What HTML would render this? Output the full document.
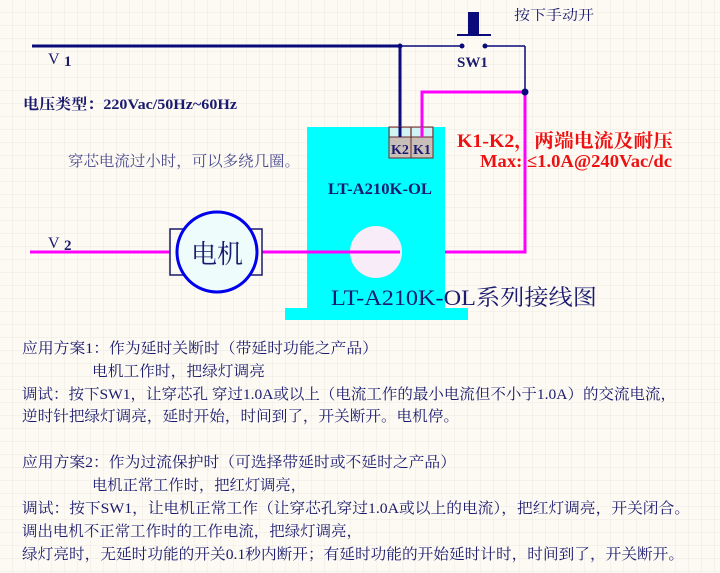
<!DOCTYPE html>
<html><head><meta charset="utf-8"><style>
html,body{margin:0;padding:0;background:#fcfaf3;}
svg{display:block}
text{font-family:"Liberation Serif","Noto Serif CJK SC",serif;}
</style></head><body>
<svg width="720" height="573" viewBox="0 0 720 573" xmlns="http://www.w3.org/2000/svg">
<defs>
<pattern id="g" width="13" height="13" patternUnits="userSpaceOnUse">
<path d="M13 0V13H0" fill="none" stroke="#ece9e0" stroke-width="1"/>
</pattern>
</defs>
<rect width="720" height="573" fill="#fcfaf3"/>
<rect width="720" height="573" fill="url(#g)"/>
<line x1="32" y1="46" x2="400" y2="46" stroke="#0a0a7a" stroke-width="3"/>
<line x1="400" y1="46" x2="462" y2="46" stroke="#0a0a7a" stroke-width="1.5"/>
<line x1="485" y1="46" x2="525" y2="46" stroke="#0a0a7a" stroke-width="1.5"/>
<line x1="525" y1="46" x2="525" y2="92" stroke="#0a0a7a" stroke-width="1.5"/>
<line x1="400" y1="46" x2="400" y2="127" stroke="#0a0a7a" stroke-width="3"/>
<circle cx="400" cy="46" r="2.5" fill="#0a0a7a"/>
<circle cx="462" cy="46" r="2.5" fill="#0a0a7a"/>
<circle cx="485" cy="46" r="2.5" fill="#0a0a7a"/>
<rect x="457" y="34" width="34" height="2" fill="#0a0a7a"/>
<rect x="468" y="12" width="11" height="22" fill="#0a0a7a"/>
<text x="457" y="67" font-size="15" font-weight="bold" fill="#1a1a6e">SW1</text>
<text x="514" y="20" font-size="14" fill="#1a1a6e" font-family="Liberation Sans,'Noto Sans CJK SC',sans-serif" textLength="80" lengthAdjust="spacingAndGlyphs">按下手动开</text>
<text x="48" y="64" font-size="16" fill="#1a1a6e">V</text><text x="64" y="66" font-size="15" font-weight="bold" fill="#1a1a6e">1</text>
<text x="23" y="109" font-size="15" font-weight="bold" fill="#1a1a6e" textLength="214" lengthAdjust="spacingAndGlyphs">电压类型：220Vac/50Hz~60Hz</text>
<text x="68" y="166" font-size="15" fill="#4a4a8e" textLength="232" lengthAdjust="spacingAndGlyphs">穿芯电流过小时，可以多绕几圈。</text>
<rect x="307" y="127" width="138" height="186" fill="#00ffff"/>
<rect x="285" y="308" width="183" height="12" fill="#00ffff"/>
<circle cx="376" cy="252" r="26" fill="#f8ecf8"/>
<polyline points="422,127 422,92 525,92 525,252 445,252" fill="none" stroke="#ff00ff" stroke-width="3"/>
<line x1="30" y1="252" x2="170" y2="252" stroke="#ff00ff" stroke-width="3"/>
<line x1="262" y1="252" x2="400" y2="252" stroke="#ff00ff" stroke-width="3"/>
<circle cx="525" cy="92" r="3.5" fill="#0a0a7a"/>
<rect x="389" y="127" width="22" height="31" fill="#c8c0b8" stroke="#6a2a2a"/>
<rect x="411" y="127" width="22" height="31" fill="#c8c0b8" stroke="#6a2a2a"/>
<rect x="390" y="128" width="20" height="9" fill="#d0f4f4"/>
<rect x="412" y="128" width="20" height="9" fill="#d0f4f4"/>
<line x1="389" y1="137" x2="433" y2="137" stroke="#6a2a2a"/>
<text x="391" y="154" font-size="14" font-weight="bold" fill="#1a1a6e">K2</text>
<text x="413" y="154" font-size="14" font-weight="bold" fill="#1a1a6e">K1</text>
<line x1="400" y1="127" x2="400" y2="137" stroke="#0a0a7a" stroke-width="3"/>
<line x1="422" y1="127" x2="422" y2="137" stroke="#ff00ff" stroke-width="3"/>
<text x="328" y="194" font-size="16" font-weight="bold" fill="#1a1a6e" textLength="104" lengthAdjust="spacingAndGlyphs">LT-A210K-OL</text>
<text x="331" y="305" font-size="22" fill="#1a1a6e" textLength="266" lengthAdjust="spacingAndGlyphs">LT-A210K-OL系列接线图</text>
<text x="457" y="147" font-size="19" font-weight="bold" fill="#ee1111" textLength="216" lengthAdjust="spacingAndGlyphs">K1-K2，两端电流及耐压</text>
<text x="480" y="167" font-size="18" font-weight="bold" fill="#ee1111" textLength="192" lengthAdjust="spacingAndGlyphs">Max: ≤1.0A@240Vac/dc</text>
<text x="48" y="248" font-size="16" fill="#1a1a6e">V</text><text x="64" y="250" font-size="15" font-weight="bold" fill="#1a1a6e">2</text>
<rect x="170" y="229" width="92" height="46" fill="none" stroke="#1a1a6e" stroke-width="1.5"/>
<circle cx="217" cy="252" r="40" fill="#eefcfc" stroke="#0000ee" stroke-width="3"/>
<text x="191" y="263" font-size="26" fill="#1a1a6e" font-family="Liberation Sans,'Noto Sans CJK SC',sans-serif">电机</text>
<g font-size="15" fill="#1a1a6e">
<text x="22" y="353" textLength="356" lengthAdjust="spacingAndGlyphs">应用方案1：作为延时关断时（带延时功能之产品）</text>
<text x="92" y="376" textLength="173" lengthAdjust="spacingAndGlyphs">电机工作时，把绿灯调亮</text>
<text x="22" y="399" textLength="654" lengthAdjust="spacingAndGlyphs">调试：按下SW1，让穿芯孔 穿过1.0A或以上（电流工作的最小电流但不小于1.0A）的交流电流，</text>
<text x="22" y="421" textLength="437" lengthAdjust="spacingAndGlyphs">逆时针把绿灯调亮，延时开始，时间到了，开关断开。电机停。</text>
<text x="22" y="467" textLength="434" lengthAdjust="spacingAndGlyphs">应用方案2：作为过流保护时（可选择带延时或不延时之产品）</text>
<text x="92" y="490" textLength="214" lengthAdjust="spacingAndGlyphs">电机正常工作时，把红灯调亮，</text>
<text x="22" y="513" textLength="668" lengthAdjust="spacingAndGlyphs">调试：按下SW1，让电机正常工作（让穿芯孔穿过1.0A或以上的电流），把红灯调亮，开关闭合。</text>
<text x="22" y="536" textLength="340" lengthAdjust="spacingAndGlyphs">调出电机不正常工作时的工作电流，把绿灯调亮，</text>
<text x="22" y="559" textLength="662" lengthAdjust="spacingAndGlyphs">绿灯亮时，无延时功能的开关0.1秒内断开；有延时功能的开始延时计时，时间到了，开关断开。</text>
</g>
</svg>
</body></html>
